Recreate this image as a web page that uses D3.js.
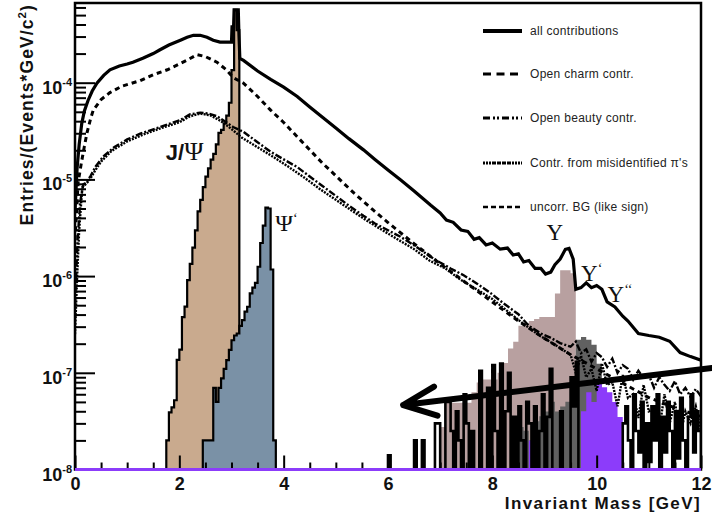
<!DOCTYPE html>
<html><head><meta charset="utf-8">
<script src="https://cdn.jsdelivr.net/npm/d3@7"></script>
<style>
body{margin:0;background:#fff;}
svg{display:block;font-family:"Liberation Sans",Arial,Helvetica,sans-serif;}
</style></head><body>
<svg id="chart" width="712" height="517"></svg>
<script>
// ---------- DATA ----------
const xTickValues=[0,2,4,6,8,10,12];
const xTickLabels=["0","2","4","6","8","10","12"];
const yDecadeExponents=[-8,-7,-6,-5,-4];
const yMinorMultipliers=[2,3,4,5,6,7,8,9];

const massAll=[0.0,0.04,0.08,0.13,0.18,0.25,0.33,0.42,0.55,0.67,0.85,1.0,1.11,1.3,1.5,1.63,1.8,2.02,2.15,2.27,2.4,2.53,2.65,2.78,2.9,3.0,3.01,3.04,3.05,3.13,3.14,3.16,3.23,3.5,3.75,4.0,4.26,4.5,4.75,5.0,5.25,5.53,5.75,6.0,6.25,6.5,6.82,7.0,7.12,7.25,7.4,7.53,7.65,7.75,7.88,8.0,8.15,8.29,8.4,8.5,8.6,8.7,8.82,8.93,9.02,9.12,9.2,9.3,9.4,9.47,9.55,9.6,9.7,9.8,9.9,10.0,10.1,10.2,10.35,10.5,10.6,10.8,11.0,11.2,11.4,11.6,11.8,12.0];
const valAll=[4.7e-6,1.3e-5,2.3e-5,3.8e-5,5.1e-5,6.55e-5,8.2e-5,9.9e-5,1.19e-4,1.36e-4,1.49e-4,1.56e-4,1.63e-4,1.79e-4,2.0e-4,2.19e-4,2.45e-4,2.75e-4,2.95e-4,3.09e-4,3.09e-4,2.95e-4,2.75e-4,2.63e-4,2.63e-4,2.63e-4,3.78e-4,3.78e-4,5.65e-4,5.65e-4,3.5e-4,1.78e-4,1.70e-4,1.32e-4,1.08e-4,9.0e-5,7.2e-5,5.6e-5,4.36e-5,3.4e-5,2.64e-5,2.02e-5,1.61e-5,1.25e-5,9.8e-6,7.6e-6,5.4e-6,4.5e-6,3.8e-6,3.6e-6,3.0e-6,2.9e-6,2.4e-6,2.5e-6,2.1e-6,2.2e-6,1.9e-6,1.95e-6,1.65e-6,1.7e-6,1.4e-6,1.45e-6,1.2e-6,1.2e-6,1.05e-6,1.1e-6,1.31e-6,1.5e-6,1.89e-6,1.93e-6,1.5e-6,7.3e-7,7.6e-7,8.5e-7,7.6e-7,8.0e-7,7.3e-7,5.4e-7,4.8e-7,3.85e-7,3.43e-7,2.55e-7,2.43e-7,2.33e-7,2.12e-7,1.62e-7,1.47e-7,1.35e-7];

const massCharm=[0.0,0.06,0.12,0.18,0.23,0.3,0.35,0.5,0.67,0.9,1.25,1.5,1.77,2.0,2.15,2.34,2.5,2.72,2.9,3.03,3.23,3.5,3.75,4.0,4.26,4.5,4.75,5.0,5.35,5.72,6.0,6.5,7.0,7.5,8.0,8.5,9.0,9.5,10.0,10.5,11.0,11.5,12.0];
const valCharm=[2.35e-6,9.3e-6,1.46e-5,2.2e-5,3.03e-5,4.27e-5,5.2e-5,6.7e-5,7.9e-5,9.2e-5,1.05e-4,1.21e-4,1.36e-4,1.56e-4,1.71e-4,1.95e-4,1.86e-4,1.63e-4,1.36e-4,1.13e-4,9.9e-5,7.2e-5,5.2e-5,3.88e-5,2.76e-5,2.02e-5,1.46e-5,1.09e-5,7.2e-6,4.8e-6,3.58e-6,2.16e-6,1.34e-6,8.5e-7,5.4e-7,3.43e-7,2.27e-7,1.54e-7,1.1e-7,7.8e-8,5.55e-8,4.33e-8,3.53e-8];

const massBeauty=[0.0,0.05,0.1,0.16,0.22,0.3,0.4,0.54,0.75,1.0,1.25,1.63,2.02,2.2,2.4,2.55,2.72,2.9,3.03,3.23,3.5,3.75,4.0,4.26,4.5,4.75,5.0,5.25,5.53,5.75,6.0,6.24,6.5,6.82,7.0,7.2,7.45,7.7,7.97,8.2,8.5,8.7,8.93,9.1,9.3,9.5,9.6,9.7,9.8,9.9,10.0,10.1,10.2,10.3,10.4,10.5,10.6,10.7,10.8,10.9,11.0,11.1,11.2,11.3,11.4,11.5,11.6,11.7,11.8,11.9,12.0];
const valBeauty=[5.0e-7,2.4e-6,5.9e-6,8.9e-6,9.3e-6,1.09e-5,1.37e-5,1.72e-5,2.15e-5,2.59e-5,2.97e-5,3.48e-5,4.1e-5,4.7e-5,4.9e-5,4.8e-5,4.5e-5,3.9e-5,3.48e-5,3.1e-5,2.42e-5,1.93e-5,1.61e-5,1.34e-5,1.07e-5,8.5e-6,6.75e-6,5.36e-6,4.2e-6,3.5e-6,2.98e-6,2.55e-6,2.08e-6,1.58e-6,1.38e-6,1.2e-6,1.02e-6,8.4e-7,6.65e-7,5.3e-7,4.03e-7,3.06e-7,2.55e-7,2.33e-7,2.03e-7,1.86e-7,2.1e-7,1.6e-7,1.75e-7,1.3e-7,1.6e-7,1.45e-7,1.15e-7,1.4e-7,1.0e-7,1.2e-7,1.1e-7,8.5e-8,1.05e-7,8.8e-8,9.5e-8,7.0e-8,9.0e-8,7.5e-8,6.5e-8,8.2e-8,6.0e-8,7.0e-8,5.6e-8,6.8e-8,5.7e-8];

const massPion=[0.0,0.04,0.08,0.14,0.2,0.28,0.38,0.5,0.7,1.0,1.3,1.6,2.0,2.2,2.4,2.6,2.8,3.0,3.2,3.5,3.8,4.1,4.4,4.7,5.0,5.3,5.6,5.9,6.2,6.5,6.8,7.1,7.4,7.7,8.0,8.3,8.6,8.9,9.2,9.5,9.6,9.7,9.8,9.9,10.0,10.1,10.2,10.3,10.4,10.5,10.6,10.7,10.8,10.9,11.0,11.1,11.2,11.3,11.4,11.5,11.6,11.7,11.8,11.9,12.0];
const valPion=[2.5e-7,9.6e-7,2.98e-6,8.3e-6,8.9e-6,9.9e-6,1.22e-5,1.53e-5,1.97e-5,2.47e-5,2.9e-5,3.32e-5,3.9e-5,4.48e-5,4.8e-5,4.58e-5,4.0e-5,3.32e-5,2.7e-5,2.15e-5,1.71e-5,1.34e-5,1.04e-5,7.9e-6,6.15e-6,4.78e-6,3.73e-6,2.97e-6,2.37e-6,1.9e-6,1.44e-6,1.2e-6,9.1e-7,7.3e-7,5.8e-7,4.3e-7,3.2e-7,2.44e-7,1.95e-7,1.54e-7,1.0e-7,1.5e-7,9.0e-8,1.1e-7,6.5e-8,1.25e-7,7.5e-8,8.0e-8,4.5e-8,9.5e-8,5.5e-8,6.0e-8,3.4e-8,7.5e-8,4.0e-8,4.2e-8,2.6e-8,6.0e-8,3.0e-8,5.0e-8,2.2e-8,4.0e-8,3.0e-8,4.5e-8,2.5e-8];

// like-sign BG histogram: bins of 0.05 GeV starting at 6.0 (0 = empty bin)
const likeSignStart=6.0, likeSignBin=0.05;
const valLikeSign=[
 1.4e-8,0,0,0,0,0,0,0,0,0,2.0e-8,0,0,2.0e-8,0,0,0,0,3.0e-8,3.0e-8,
 0,0,5.0e-8,5.0e-8,2.5e-8,0,4.0e-8,2.0e-8,0,6.0e-8,3.0e-8,0,2.5e-8,0,0,1.05e-7,0,0,7.0e-8,0,
 1.2e-7,2.5e-8,0,1.25e-7,0,4.0e-8,1.0e-7,0,3.5e-8,0,4.5e-8,2.0e-8,0,5.0e-8,3.0e-8,0,4.5e-8,0,2.5e-8,6.0e-8,
 0,3.5e-8,1.1e-7,0,0,0,4.0e-8,0,0,0,9.0e-8,4.5e-8,1.3e-7,0,0,0,0,0,0,0,
 0,0,0,0,0,0,0,0,0,0,3.0e-8,4.5e-8,2.0e-8,0,6.0e-8,2.5e-8,1.5e-8,5.0e-8,0,3.0e-8,
 1.2e-8,4.5e-8,2.0e-8,6.0e-8,0,3.5e-8,1.5e-8,5.0e-8,2.5e-8,0,4.0e-8,1.3e-8,5.5e-8,2.0e-8,0,3.5e-8,6.0e-8,1.5e-8,4.0e-8,2.5e-8];

// resonances (histograms)
const jpsiStart=1.75, jpsiBin=0.05;
const valJpsi=[2.0e-8,3.89e-8,4.4e-8,5.2e-8,1.36e-7,1.74e-7,3.77e-7,4.84e-7,9.1e-7,1.34e-6,1.97e-6,2.97e-6,4.68e-6,6.15e-6,8.3e-6,1.07e-5,1.3e-5,1.6e-5,1.84e-5,2.3e-5,3.03e-5,3.25e-5,3.8e-5,4.56e-5,6.2e-5,1.35e-4,5.65e-4,3.5e-4];
const psi2Start=2.45, psi2Bin=0.05;
const valPsi2=[2.0e-8,2.0e-8,2.0e-8,2.0e-8,7.0e-8,5.0e-8,7.0e-8,8.75e-8,1.1e-7,1.35e-7,1.73e-7,2.17e-7,2.43e-7,2.55e-7,3.06e-7,3.5e-7,4.3e-7,4.82e-7,6.64e-7,7.6e-7,8.5e-7,1.25e-6,2.2e-6,3.33e-6,5.1e-6,5.0e-6,1.17e-6,2.0e-8];
const ups1Start=7.0, ups1Bin=0.1;
const valUps1=[2.75e-8,4.9e-8,4.9e-8,4.9e-8,4.9e-8,4.9e-8,6.31e-8,7.94e-8,8.51e-8,8.51e-8,8.51e-8,1.0e-7,1.26e-7,1.78e-7,2.09e-7,3.06e-7,3.28e-7,3.44e-7,3.6e-7,3.77e-7,3.77e-7,3.77e-7,6.6e-7,1.15e-6,1.15e-6,1.07e-6];
const ups2Start=8.5, ups2Bin=0.1;
const valUps2=[2.75e-8,2.51e-8,2.0e-8,3.16e-8,3.55e-8,3.98e-8,5.01e-8,3.98e-8,4.47e-8,5.01e-8,7.94e-8,2.2e-7,2.35e-7,2.2e-7,1.95e-7,1.24e-7,5.0e-8];
const ups3Start=8.7, ups3Bin=0.1;
const valUps3=[2.0e-8,2.0e-8,0,0,0,0,0,0,0,0,4.0e-8,6.3e-8,5.0e-8,7.9e-8,7.1e-8,6.3e-8,5.0e-8,3.5e-8];

// annotation arrow (mass, value)
const arrowFrom=[12.21,1.12e-7];
const arrowTo=[6.29,4.64e-8];

const legendLabels=["all contributions","Open charm contr.","Open beauty contr.","Contr. from misidentified \u03C0's","uncorr. BG (like sign)"];

// ---------- CHART ----------
const svg=d3.select("#chart");
const yMin=1e-8, yMax=6.67e-4;
const x=d3.scaleLinear().domain([0,12]).range([75,701]);
const y=d3.scaleLog().domain([yMin,yMax]).range([469.5,3]).clamp(true);
const yv=v=>y(v>0?v:yMin);

svg.append("defs").append("clipPath").attr("id","clip")
  .append("rect").attr("x",x(0)).attr("y",y(yMax)).attr("width",x(12)-x(0)).attr("height",y(yMin)-y(yMax));
const plot=svg.append("g").attr("clip-path","url(#clip)");

function histPoints(start,w,vals){
  const p=[[start,0]];
  vals.forEach((v,i)=>p.push([start+i*w,v]));
  p.push([start+vals.length*w,vals[vals.length-1]]);
  p.push([start+vals.length*w,0]);
  return p;
}
const stepLine=d3.line().curve(d3.curveStepAfter).x(d=>x(d[0])).y(d=>yv(d[1]));
const stepArea=d3.area().curve(d3.curveStepAfter).x(d=>x(d[0])).y0(y(yMin)).y1(d=>yv(d[1]));
const line=d3.line().x(d=>x(d[0])).y(d=>yv(d[1]));
const zip=(a,b)=>a.map((m,i)=>[m,b[i]]);

function drawHist(start,w,vals,fill,stroke,sw){
  const pts=histPoints(start,w,vals);
  plot.append("path").attr("d",stepArea(pts)).attr("fill",fill).attr("stroke","none");
  if(stroke) plot.append("path").attr("d",stepLine(pts)).attr("fill","none").attr("stroke",stroke).attr("stroke-width",sw);
}
drawHist(jpsiStart,jpsiBin,valJpsi,"#c9aa8e","#000",2.2);
drawHist(psi2Start,psi2Bin,valPsi2,"#7a91a6","#000",2.2);
drawHist(ups1Start,ups1Bin,valUps1,"#b8a0a0",null,0);
drawHist(ups2Start,ups2Bin,valUps2,"#616161",null,0);
drawHist(ups3Start,ups3Bin,valUps3,"#8c3cfa",null,0);

// like sign BG
plot.append("path").attr("d",stepLine(histPoints(likeSignStart,likeSignBin,valLikeSign)))
  .attr("fill","none").attr("stroke","#000").attr("stroke-width",2.6);

const styles={
  pion:{w:2.4,dash:"2,1.2"},
  beauty:{w:2.4,dash:"7,2,2,2"},
  charm:{w:3,dash:"5,4"},
  all:{w:3.2,dash:null}
};
function drawLine(ms,vs,st){
  const p=plot.append("path").attr("d",line(zip(ms,vs))).attr("fill","none")
    .attr("stroke","#000").attr("stroke-width",st.w).attr("stroke-linejoin","miter");
  if(st.dash) p.attr("stroke-dasharray",st.dash);
}
drawLine(massPion,valPion,styles.pion);
drawLine(massBeauty,valBeauty,styles.beauty);
drawLine(massCharm,valCharm,styles.charm);
drawLine(massAll,valAll,styles.all);

// axes
const gx=svg.append("g").attr("transform",`translate(0,${y(yMin)-1})`);
const xMinor=d3.range(0,12.001,0.5).filter(v=>!xTickValues.includes(v));
gx.append("g").call(d3.axisBottom(x).tickValues(xMinor).tickSize(-6).tickFormat(""));
gx.append("g").call(d3.axisBottom(x).tickValues(xTickValues).tickSize(-13).tickPadding(9)
  .tickFormat((d,i)=>xTickLabels[i]));
gx.selectAll(".domain").remove();
gx.selectAll("line").attr("stroke","#000").attr("stroke-width",2);
gx.selectAll("text").attr("font-size",18).attr("font-weight","bold").attr("fill","#111")
  .attr("font-family","'Liberation Sans',Arial,sans-serif");

const gy=svg.append("g").attr("transform",`translate(${x(0)+1},0)`);
const yMinor=[];
yDecadeExponents.forEach(e=>yMinorMultipliers.forEach(m=>{const v=m*Math.pow(10,e); if(v<=yMax) yMinor.push(v);}));
const yMajor=yDecadeExponents.map(e=>Math.pow(10,e));
gy.append("g").call(d3.axisLeft(y).tickValues(yMinor).tickSize(-10).tickFormat(""));
gy.append("g").call(d3.axisLeft(y).tickValues(yMajor).tickSize(-19).tickFormat(""));
gy.selectAll(".domain").remove();
gy.selectAll("line").attr("stroke","#000").attr("stroke-width",2);

yDecadeExponents.forEach(e=>{
  const t=svg.append("text").attr("x",72).attr("y",y(Math.pow(10,e))+11)
    .attr("text-anchor","end").attr("font-weight","bold").attr("fill","#111");
  t.append("tspan").attr("font-size",18).text("10");
  t.append("tspan").attr("font-size",11).attr("dy",-8).text(String(e));
});

// frame
svg.append("rect").attr("x",x(0)).attr("y",y(yMax)).attr("width",x(12)-x(0)).attr("height",y(yMin)-y(yMax))
  .attr("fill","none").attr("stroke","#000").attr("stroke-width",2.5);
// purple baseline
svg.append("line").attr("x1",x(0)).attr("x2",x(12)).attr("y1",y(yMin)).attr("y2",y(yMin))
  .attr("stroke","#8c3cfa").attr("stroke-width",3);

// axis titles
svg.append("text").attr("x",x(12)).attr("y",509).attr("text-anchor","end")
  .attr("font-size",17).attr("letter-spacing",1.4).attr("font-weight","bold").attr("fill","#111").text("Invariant Mass [GeV]");
const yt=svg.append("text").attr("transform","translate(33,4) rotate(-90)").attr("text-anchor","end")
  .attr("font-size",17.5).attr("letter-spacing",1.1).attr("font-weight","bold").attr("fill","#111");
yt.append("tspan").text("Entries/(Events*GeV/c");
yt.append("tspan").attr("font-size",11.5).attr("dy",-7).text("2");
yt.append("tspan").attr("dy",7).text(")");

// resonance labels
const serif="'Liberation Serif','Times New Roman',serif";
const lab=(m,v,parts,size)=>{
  const t=svg.append("text").attr("x",x(m)).attr("y",y(v)).attr("font-size",size).attr("fill","#111");
  parts.forEach(p=>{const s=t.append("tspan").text(p.t); if(p.f) s.attr("font-family",p.f); if(p.b) s.attr("font-weight","bold"); if(p.fs) s.attr("font-size",p.fs); if(p.s) s.attr("font-size",p.s).attr("dy",p.dy);});
};
lab(1.74,1.6e-5,[{t:"J/",b:true},{t:"\u03A8",f:serif,fs:26}],22);
lab(3.84,2.9e-6,[{t:"\u03A8",f:serif},{t:"\u2018",f:serif,s:14,dy:-8}],24);
lab(9.04,2.35e-6,[{t:"\u03A5",f:serif}],23);
lab(9.7,9.0e-7,[{t:"\u03A5",f:serif},{t:"\u2018",f:serif,s:14,dy:-8}],23);
lab(10.21,5.4e-7,[{t:"\u03A5",f:serif},{t:"\u2018\u2018",f:serif,s:14,dy:-8}],23);

// legend
const legY=[31,74,118,163,207];
const legStyles=[{w:4,dash:null},{w:3,dash:"8,5.5"},{w:3,dash:"7,3,2,2,2,3"},{w:3,dash:"2,1,2,1,2,1,4,1,4,1,4,1,4,1,2,1,2,1"},{w:2.5,dash:"5,3"}];
legendLabels.forEach((l,i)=>{
  const ln=svg.append("line").attr("x1",483).attr("x2",522).attr("y1",legY[i]).attr("y2",legY[i])
    .attr("stroke","#000").attr("stroke-width",legStyles[i].w);
  if(legStyles[i].dash) ln.attr("stroke-dasharray",legStyles[i].dash);
  svg.append("text").attr("x",530).attr("y",legY[i]+4).attr("font-size",12).attr("letter-spacing",0.3).attr("fill","#222").text(l);
});

// arrow
const ax1=x(arrowFrom[0]), ay1=y(arrowFrom[1]), ax2=x(arrowTo[0]), ay2=y(arrowTo[1]);
const ang=Math.atan2(ay1-ay2,ax1-ax2);
const wing=36, spread=24*Math.PI/180;
const arrowPath=d3.path();
arrowPath.moveTo(ax1,ay1); arrowPath.lineTo(ax2,ay2);
arrowPath.moveTo(ax2+wing*Math.cos(ang-spread),ay2+wing*Math.sin(ang-spread));
arrowPath.lineTo(ax2,ay2);
arrowPath.lineTo(ax2+wing*Math.cos(ang+spread),ay2+wing*Math.sin(ang+spread));
svg.append("path").attr("d",arrowPath.toString()).attr("fill","none").attr("stroke","#000")
  .attr("stroke-width",6).attr("stroke-linecap","round").attr("stroke-linejoin","round");
</script>
</body></html>
